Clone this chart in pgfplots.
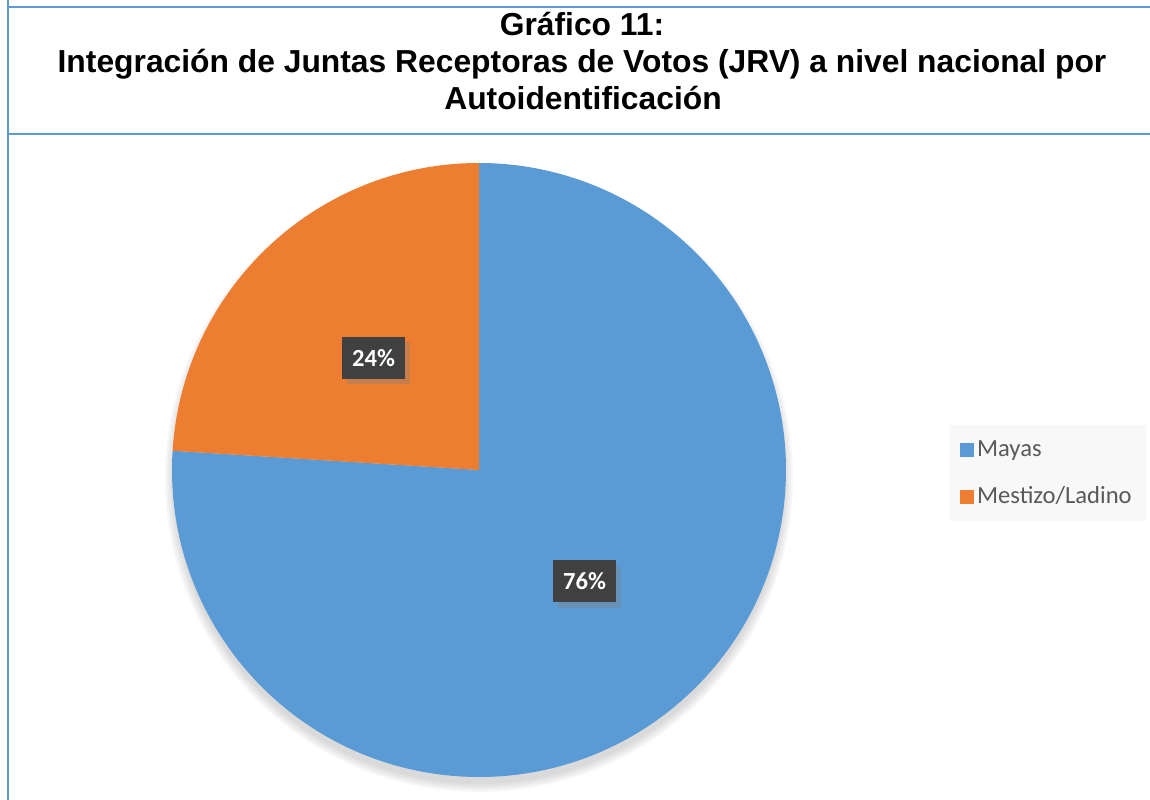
\documentclass[border=0pt]{standalone}
\usepackage{fontspec}
\setmainfont{Liberation Sans}
\newfontfamily\calibri{Carlito}
\usepackage{pgfplots}
\usepackage{pgfplotstable}
\pgfplotsset{compat=1.18}
\usetikzlibrary{shadows}

\definecolor{mayas}{HTML}{5B9BD5}
\definecolor{mestizo}{HTML}{ED7D31}
\definecolor{frameblue}{HTML}{5B9BD5}
\definecolor{labelbg}{HTML}{404040}
\definecolor{legbg}{HTML}{F8F8F8}
\definecolor{legtext}{HTML}{595959}

% share of JRV members (%)
\pgfplotstableread{
share group
76 Mayas
24 Mestizo/Ladino
}\piedata

\begin{document}
\begin{tikzpicture}
\pgfplotstablegetelem{0}{share}\of\piedata \pgfmathtruncatemacro{\sharea}{\pgfplotsretval}
\pgfplotstablegetelem{1}{share}\of\piedata \pgfmathtruncatemacro{\shareb}{\pgfplotsretval}
% Mestizo slice: from 12 o'clock counter-clockwise
\pgfmathsetmacro{\angb}{90+3.6*\shareb}
\begin{axis}[
    at={(0,0)}, anchor=south west,
    scale only axis, width=23cm, height=16cm,
    xmin=0, xmax=1150, ymin=0, ymax=800,
    hide axis, clip=false,
    legend style={at={(949/1150,375/800)}, anchor=north west,
        fill=legbg, draw=none, text=legtext,
        font=\calibri\fontsize{14}{16}\selectfont,
        inner xsep=6pt, inner ysep=6.5pt, row sep=12pt,
        legend cell align=left},
    legend image code/.code={\fill[#1] (0cm,-0.13cm) rectangle (0.26cm,0.13cm);},
]
% frame
\draw[frameblue, line width=0.05cm] (axis cs:8,800) -- (axis cs:8,793) -- (axis cs:1150,793);
\draw[frameblue, line width=0.05cm] (axis cs:8,800) -- (axis cs:8,0);
\draw[frameblue, line width=0.05cm] (axis cs:8,666) -- (axis cs:1150,666);

% title
\node[anchor=base, font=\bfseries\fontsize{18.1}{21}\selectfont] at (axis cs:582,764) {Gráfico 11:};
\node[anchor=base, font=\bfseries\fontsize{18.1}{21}\selectfont] at (axis cs:582,727) {Integración de Juntas Receptoras de Votos (JRV) a nivel nacional por};
\node[anchor=base, font=\bfseries\fontsize{18.1}{21}\selectfont] at (axis cs:583,690) {Autoidentificación};

% soft shadow under the pie
\fill[black, opacity=0.03] (axis cs:479,322) circle[radius=6.12cm];
\fill[black, opacity=0.03] (axis cs:479,322) circle[radius=6.16cm];
\fill[black, opacity=0.03] (axis cs:479,322) circle[radius=6.20cm];
\fill[black, opacity=0.03] (axis cs:479,322) circle[radius=6.24cm];
\fill[black, opacity=0.03] (axis cs:479,322) circle[radius=6.28cm];
% slices
\fill[mayas] (axis cs:479,330) -- ++(\angb:6.14cm) arc[start angle=\angb, end angle=450, radius=6.14cm] -- cycle;
\fill[mestizo] (axis cs:479,330) -- ++(90:6.14cm) arc[start angle=90, end angle=\angb, radius=6.14cm] -- cycle;

% data labels
\node[fill=labelbg, text=white, font=\calibri\bfseries\fontsize{14}{16}\selectfont,
      minimum width=1.26cm, minimum height=0.84cm, inner sep=0pt,
      drop shadow={shadow xshift=0.09cm, shadow yshift=-0.11cm, opacity=0.35}]
      at (axis cs:373.5,442) {\shareb\%};
\node[fill=labelbg, text=white, font=\calibri\bfseries\fontsize{14}{16}\selectfont,
      minimum width=1.26cm, minimum height=0.84cm, inner sep=0pt,
      drop shadow={shadow xshift=0.09cm, shadow yshift=-0.11cm, opacity=0.35}]
      at (axis cs:584.5,218.5) {\sharea\%};

\addlegendimage{mayas}
\addlegendentry{Mayas}
\addlegendimage{mestizo}
\addlegendentry{Mestizo/Ladino}
\end{axis}
\pgfresetboundingbox
\path (0,0) rectangle (23cm,16cm);
\end{tikzpicture}
\end{document}
